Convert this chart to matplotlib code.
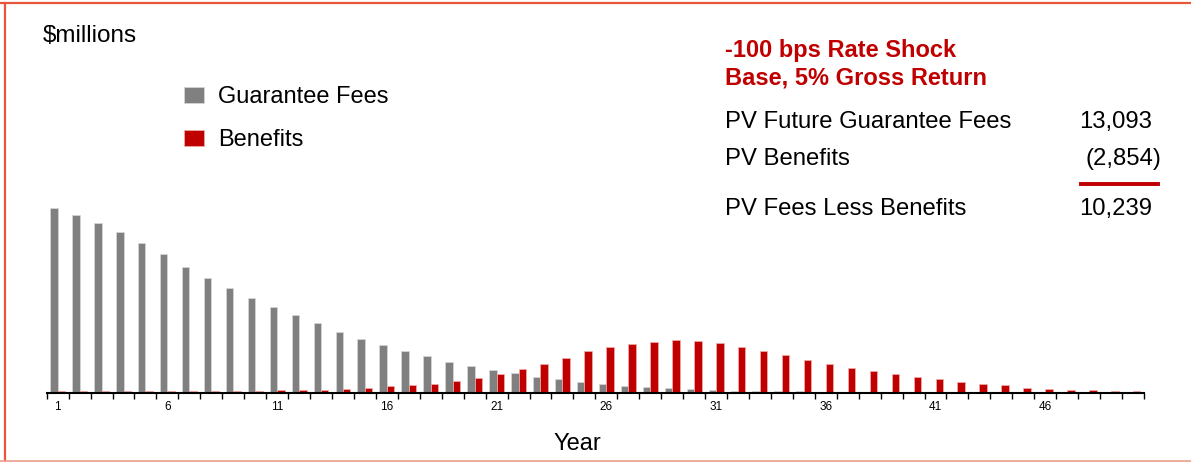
import numpy as np
import matplotlib
matplotlib.use("Agg")
import matplotlib.pyplot as plt
from matplotlib.lines import Line2D

plt.rcParams['font.family'] = ['Liberation Sans', 'DejaVu Sans']

# data ($millions)
years = list(range(1, 51))
fees = [1656, 1593, 1521, 1440, 1341, 1242, 1125, 1026, 936, 846,
        765, 693, 621, 540, 477, 423, 369, 324, 270, 234,
        198, 171, 135, 117, 90, 72, 54, 45, 36, 27,
        18, 14, 9, 9, 9, 7, 7, 6, 6, 5,
        5, 5, 5, 4, 4, 4, 4, 4, 3, 3]
benefits = [11, 11, 11, 11, 11, 11, 11, 11, 11, 11,
            21, 21, 21, 30, 39, 60, 69, 72, 99, 130,
            166, 211, 256, 310, 375, 411, 438, 456, 474, 465,
            447, 411, 375, 339, 294, 256, 220, 193, 166, 135,
            117, 90, 72, 63, 42, 33, 24, 24, 15, 15]
tick_years = [1, 6, 11, 16, 21, 26, 31, 36, 41, 46]

pv_labels = ['PV Future Guarantee Fees', 'PV Benefits', 'PV Fees Less Benefits']
pv_values = ['13,093', '(2,854)', '10,239']

GREY = '#808080'
RED = '#C00000'
W, H = 1191, 462

fig = plt.figure(figsize=(W / 100, H / 100), dpi=100)
ax = fig.add_axes([46.7 / W, 1 - 392.5 / H, (1144 - 46.7) / W, 200.5 / H])

x = np.array(years)
bw = 0.34
g = ax.bar(x - bw, fees, width=bw, align='edge', color=GREY,
           edgecolor='#d8d8d8', linewidth=0.5, label='Guarantee Fees')
r = ax.bar(x, benefits, width=bw, align='edge', color=RED,
           edgecolor='#f2b0b0', linewidth=0.5, label='Benefits')

ax.set_xlim(0.5, 50.5)
ax.set_ylim(0, 1800)
for s in ['top', 'right', 'left']:
    ax.spines[s].set_visible(False)
ax.spines['bottom'].set_linewidth(1.5)
ax.set_yticks([])
ax.set_xticks(np.arange(0.5, 51, 1))
ax.set_xticklabels([])
ax.tick_params(axis='x', which='major', length=4, width=1, direction='out')
ax.set_xticks(tick_years, minor=True)
ax.set_xticklabels([str(t) for t in tick_years], minor=True)
ax.tick_params(axis='x', which='minor', length=0, labelsize=8.5, pad=6)

ax.legend(handles=[g, r], loc='upper left', bbox_to_anchor=(184 / W, 1 - 86 / H),
          bbox_transform=fig.transFigure, frameon=False, fontsize=17,
          handlelength=0.85, handleheight=0.64, handletextpad=0.6,
          labelspacing=0.9, borderpad=0, borderaxespad=0)

fig.text(43 / W, 1 - 42 / H, '$millions', fontsize=17.5, va='baseline')
fig.text(577 / W, 1 - 450 / H, 'Year', fontsize=17, ha='center', va='baseline')

# summary box
fig.text(725 / W, 1 - 57 / H, '-100 bps Rate Shock', fontsize=17, color=RED,
         fontweight='bold', va='baseline')
fig.text(725 / W, 1 - 84 / H, 'Base, 5% Gross Return', fontsize=17, color=RED,
         fontweight='bold', va='baseline')
rows_y = [128, 165, 215]
rights = [1152, 1161, 1152]
for lab, val, yy, xr in zip(pv_labels, pv_values, rows_y, rights):
    fig.text(725 / W, 1 - yy / H, lab, fontsize=17.2, va='baseline')
    fig.text(xr / W, 1 - yy / H, val, fontsize=17.2, va='baseline', ha='right')
fig.add_artist(Line2D([1081 / W, 1158 / W], [1 - 184.3 / H, 1 - 184.3 / H],
                      color=RED, linewidth=2.8, transform=fig.transFigure))

# frame around the slide
fig.add_artist(Line2D([0, 1], [1 - 2.5 / H, 1 - 2.5 / H], color='#E8553A',
                      linewidth=1.6, transform=fig.transFigure))
fig.add_artist(Line2D([5 / W, 5 / W], [0, 1 - 2.5 / H], color='#E8553A',
                      linewidth=1.6, transform=fig.transFigure))
fig.add_artist(Line2D([0, 1], [1.5 / H, 1.5 / H], color='#EBA08F',
                      linewidth=1.2, transform=fig.transFigure))

fig.savefig('out.png', dpi=100)
